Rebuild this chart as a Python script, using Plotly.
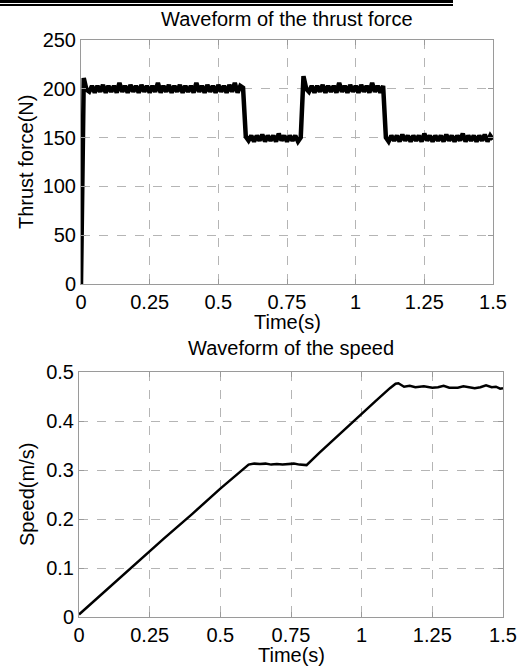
import plotly.graph_objects as go

W, H = 526, 668

# ---------------- data ----------------
# Thrust force, sampled every 0.01 s from 0.00 to 1.50 s
force_seg_a = [0, 211,
               199, 197, 203, 196, 203, 197, 204, 196, 203, 197,
               203, 196, 206, 197, 203, 196, 204, 197, 203, 196,
               204, 197, 203, 196, 203, 197, 206, 196, 203, 197,
               204, 196, 203, 197, 204, 196, 203, 197, 203, 196,
               206, 197, 203, 196, 204, 197, 203, 196, 204, 197,
               203, 196, 204, 197, 206, 196, 203, 201]          # 0.00-0.59
force_seg_b = [151, 147, 152, 146, 152, 147, 153, 146, 152, 147,
               152, 146, 154, 147, 152, 146, 152, 147, 152, 146, 150]  # 0.60-0.80
force_seg_c = [213, 200, 197, 203, 196, 203, 197, 204, 196, 203,
               197, 203, 196, 206, 197, 203, 196, 204, 197, 203,
               196, 204, 197, 203, 196, 206, 197, 203, 196, 203]  # 0.81-1.10
force_seg_d = [150, 146, 152, 147, 152, 146, 153, 147, 152, 146,
               152, 147, 152, 146, 154, 147, 152, 146, 152, 147,
               152, 146, 153, 147, 152, 146, 152, 147, 154, 146,
               152, 147, 152, 146, 152, 147, 153, 146, 152, 148]  # 1.11-1.50
force_values = force_seg_a + force_seg_b + force_seg_c + force_seg_d
force_time = [round(0.01 * i, 2) for i in range(len(force_values))]

# Speed
speed_time = [0.0, 0.1, 0.2, 0.3, 0.4, 0.5, 0.6,
              0.62, 0.64, 0.66, 0.68, 0.70, 0.72, 0.74, 0.76, 0.78, 0.805,
              0.85, 0.9, 0.95, 1.0, 1.05, 1.1, 1.12, 1.13,
              1.15, 1.17, 1.19, 1.22, 1.25, 1.27, 1.29, 1.31, 1.34, 1.36,
              1.38, 1.40, 1.42, 1.44, 1.46, 1.475, 1.49, 1.5]
speed_values = [0.005, 0.057, 0.108, 0.160, 0.210, 0.262, 0.311,
                0.313, 0.312, 0.313, 0.311, 0.312, 0.311, 0.312, 0.313, 0.311, 0.310,
                0.335, 0.362, 0.388, 0.415, 0.441, 0.467, 0.476, 0.477,
                0.470, 0.472, 0.469, 0.471, 0.468, 0.469, 0.472, 0.468, 0.468, 0.471,
                0.469, 0.467, 0.469, 0.473, 0.469, 0.470, 0.466, 0.467]

x_tickvals = [0, 0.25, 0.5, 0.75, 1, 1.25, 1.5]
x_ticktext = ["0", "0.25", "0.5", "0.75", "1", "1.25", "1.5"]
force_ticks = [0, 50, 100, 150, 200, 250]
speed_ticks = [0, 0.1, 0.2, 0.3, 0.4, 0.5]
speed_ticktext = ["0", "0.1", "0.2", "0.3", "0.4", "0.5"]

# ---------------- figure ----------------
FONT = "Liberation Sans, Arial, sans-serif"
FS = 20

def px_x(p):
    return p / W

def px_y(p):
    return 1 - p / H

fig = go.Figure()
fig.add_trace(go.Scatter(x=force_time, y=force_values, mode="lines",
                         line=dict(color="black", width=4.5), xaxis="x", yaxis="y",
                         showlegend=False, hoverinfo="skip"))
fig.add_trace(go.Scatter(x=speed_time, y=speed_values, mode="lines",
                         line=dict(color="black", width=2.5), xaxis="x2", yaxis="y2",
                         showlegend=False, hoverinfo="skip"))

axis_common = dict(
    showline=True, linecolor="#9a9a9a", linewidth=1, mirror="ticks",
    ticks="inside", ticklen=5, tickcolor="#9a9a9a", tickwidth=1,
    showgrid=True, gridcolor="#b5b5b5", gridwidth=1, griddash="dash",
    zeroline=False, tickfont=dict(family=FONT, size=FS, color="black"),
    fixedrange=True, automargin=False,
)

fig.update_layout(
    width=W, height=H,
    margin=dict(l=0, r=0, t=0, b=0, autoexpand=False),
    paper_bgcolor="white", plot_bgcolor="white",
    font=dict(family=FONT, size=FS, color="black"),
    hovermode=False,
    xaxis=dict(domain=[px_x(81), px_x(493)], range=[0, 1.5], anchor="y",
               tickvals=x_tickvals, ticktext=x_ticktext, **axis_common),
    yaxis=dict(domain=[px_y(284), px_y(40)], range=[0, 250], anchor="x",
               tickvals=force_ticks, **axis_common),
    xaxis2=dict(domain=[px_x(79), px_x(503)], range=[0, 1.5], anchor="y2",
                tickvals=x_tickvals, ticktext=x_ticktext, **axis_common),
    yaxis2=dict(domain=[px_y(617), px_y(372)], range=[0, 0.5], anchor="x2",
                tickvals=speed_ticks, ticktext=speed_ticktext, **axis_common),
)

def label(text, x, y, angle=0):
    fig.add_annotation(text=text, x=px_x(x), y=px_y(y), xref="paper", yref="paper",
                       showarrow=False, xanchor="center", yanchor="middle",
                       textangle=angle, font=dict(family=FONT, size=FS, color="black"))

label("Waveform of the thrust force", 287, 19)
label("Thrust force(N)", 26, 162, -90)
label("Time(s)", 287, 322)
label("Waveform of the speed", 291, 348)
label("Speed(m/s)", 27, 495, -90)
label("Time(s)", 291, 655)

# header double rule (page decoration above the figure)
fig.add_shape(type="rect", xref="paper", yref="paper", x0=0, x1=px_x(453),
              y0=px_y(3.0), y1=px_y(0.3), fillcolor="black", line=dict(width=0),
              layer="above")
fig.add_shape(type="rect", xref="paper", yref="paper", x0=0, x1=px_x(453),
              y0=px_y(5.6), y1=px_y(4.3), fillcolor="black", line=dict(width=0),
              layer="above")

post_js = """
document.body.style.margin='0';
document.body.style.overflow='hidden';
var r1=document.createElement('div');
r1.style.cssText='position:absolute;left:0;top:0;width:453px;height:3px;background:#000;z-index:9999;pointer-events:none;';
var r2=document.createElement('div');
r2.style.cssText='position:absolute;left:0;top:4px;width:453px;height:1.5px;background:#000;z-index:9999;pointer-events:none;';
document.body.appendChild(r1);
document.body.appendChild(r2);
"""

fig.write_html(
    "out.html",
    config={"displayModeBar": False, "staticPlot": True},
    post_script=post_js,
)
